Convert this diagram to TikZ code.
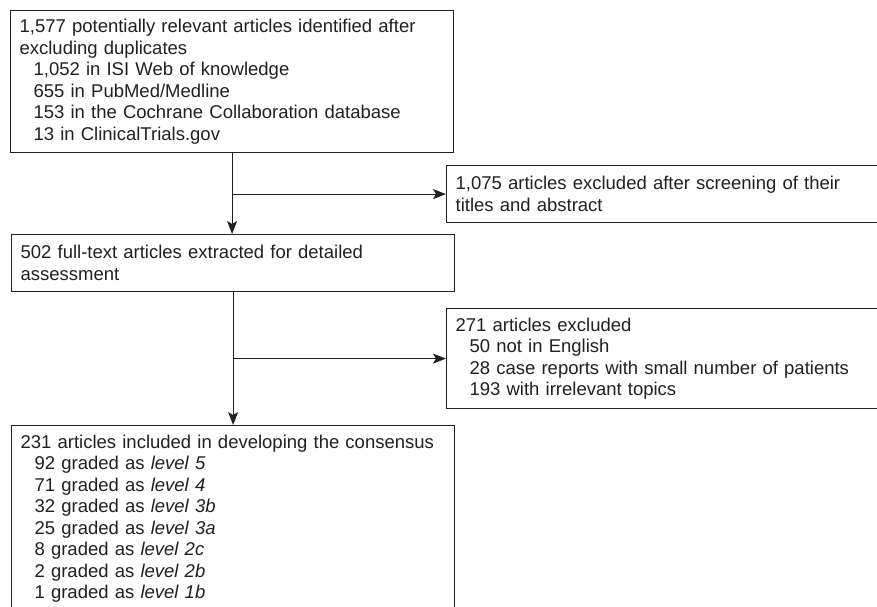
\documentclass[tikz,border=0pt]{standalone}
\usepackage{fontspec}
\setmainfont{Liberation Sans}
\usetikzlibrary{arrows.meta}
\definecolor{ink}{RGB}{35,31,32}
\newcommand{\indline}{\hspace*{14pt}}

\tikzset{
  box/.style={draw=ink, line width=1.2pt, anchor=north west, align=left,
    inner xsep=9pt, inner ysep=0pt, text=ink,
    font=\fontsize{18.5}{21.5}\selectfont},
  leftbox/.style={box, text width=425pt},
  rightbox/.style={box, text width=445pt},
  arr/.style={draw=ink, line width=1.2pt, -{Stealth[length=13pt,width=10pt,inset=3pt]}}
}

\begin{document}
\begin{tikzpicture}[x=1pt,y=-1pt]
    \useasboundingbox (0,0) rectangle (877,606);
    \clip (0,0) rectangle (877,606);

    % Main column
    \node[leftbox, minimum height=142pt] (src) at (10,10) {1,577 potentially relevant articles identified after\\
        excluding duplicates\\
        \indline 1,052 in ISI Web of knowledge\\
        \indline 655 in PubMed/Medline\\
        \indline 153 in the Cochrane Collaboration database\\
        \indline 13 in ClinicalTrials.gov};
    \node[leftbox, minimum height=57pt] (full) at (11,234) {502 full-text articles extracted for detailed\\
        assessment};
    \node[leftbox, minimum height=186pt] (incl) at (11,425) {231 articles included in developing the consensus\\
        \indline 92 graded as \textit{level 5}\\
        \indline 71 graded as \textit{level 4}\\
        \indline 32 graded as \textit{level 3b}\\
        \indline 25 graded as \textit{level 3a}\\
        \indline 8 graded as \textit{level 2c}\\
        \indline 2 graded as \textit{level 2b}\\
        \indline 1 graded as \textit{level 1b}};

    % Excluded
    \node[rightbox, minimum height=57pt] (excla) at (446,165) {1,075 articles excluded after screening of their\\
        titles and abstract};
    \node[rightbox, minimum height=100pt] (exclb) at (446,308) {271 articles excluded\\
        \indline 50 not in English\\
        \indline 28 case reports with small number of patients\\
        \indline 193 with irrelevant topics};

    % Arrows
    \draw[arr] (src.south) -- (src.south |- full.north);
    \draw[arr] (src.south |- excla.west) -- (excla.west);
    \draw[arr] (full.south) -- (full.south |- incl.north);
    \draw[arr] (full.south |- exclb.west) -- (exclb.west);
\end{tikzpicture}
\end{document}
